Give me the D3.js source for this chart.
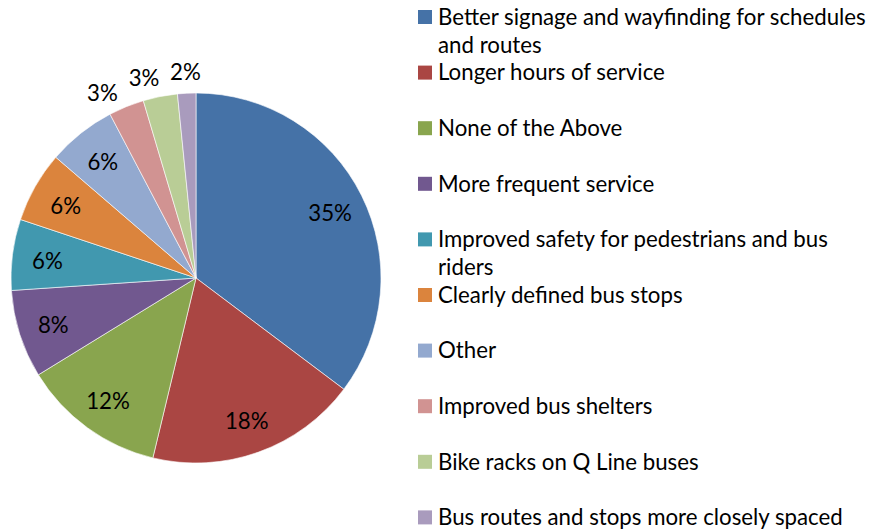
<!DOCTYPE html>
<html><head><meta charset="utf-8">
<script src="https://cdn.jsdelivr.net/npm/d3@7"></script>
<style>body{margin:0;background:#fff}svg{display:block}text{font-family:Lato,"Open Sans",sans-serif;fill:#000}</style>
</head><body><svg id="c" width="871" height="531"></svg>
<script>
const categories = ["Better signage and wayfinding for schedules and routes","Longer hours of service","None of the Above","More frequent service","Improved safety for pedestrians and bus riders","Clearly defined bus stops","Other","Improved bus shelters","Bike racks on Q Line buses","Bus routes and stops more closely spaced"];
const values = [35.3, 18.5, 12.5, 7.7, 6.2, 6.2, 6.0, 3.1, 3.0, 1.6];
const labels = ["35%","18%","12%","8%","6%","6%","6%","3%","3%","2%"];
const legendLines = [["Better signage and wayfinding for schedules","and routes"],["Longer hours of service"],["None of the Above"],["More frequent service"],["Improved safety for pedestrians and bus","riders"],["Clearly defined bus stops"],["Other"],["Improved bus shelters"],["Bike racks on Q Line buses"],["Bus routes and stops more closely spaced"]];
const colors = ["#4572A7","#AA4643","#89A54E","#71588F","#4198AF","#DB843D","#93A9CF","#D19392","#B9CD96","#A99BBD"];

const svg = d3.select("#c");
// fit font size to reference legend width
const probe = svg.append("text").style("font-size","20px").text(legendLines[0][0]);
const fs = 20 * 428 / probe.node().getComputedTextLength();
probe.remove();

const cx = 196, cy = 278, R = 185;
const pie = d3.pie().sort(null).value(d=>d)(values);
const arc = d3.arc().innerRadius(0).outerRadius(R);
const g = svg.append("g").attr("transform",`translate(${cx},${cy})`);
g.selectAll("path").data(pie).join("path").attr("d",arc)
  .attr("fill",(d,i)=>colors[i]).attr("stroke","#fff").attr("stroke-width",0.6);

const inArc = d3.arc().innerRadius(R*0.81).outerRadius(R*0.81);
const lbl = g.selectAll("text.lbl").data(pie).join("text").attr("class","lbl")
  .attr("text-anchor","middle").attr("dy","0.35em").style("font-size",fs+"px")
  .text((d,i)=>labels[i]);
const hh = 11, gap = 10;
const nodes = lbl.nodes();
let prevLeft = Infinity;
for (let i = pie.length-1; i >= 0; i--) {
  const d = pie[i], node = nodes[i];
  if (d.data >= 4) { const c = inArc.centroid(d); node.setAttribute("transform",`translate(${c[0]},${c[1]+2})`); continue; }
  const w2 = node.getComputedTextLength()/2;
  let a = (d.startAngle+d.endAngle)/2, x, y;
  const place = () => { const s=Math.sin(a), c=-Math.cos(a), r=R+10; x = r*s + s*w2; y = r*c + c*hh; };
  place();
  while (x + w2 > prevLeft - gap) { a -= 0.005; place(); }
  prevLeft = x - w2;
  node.setAttribute("transform",`translate(${x},${y})`);
}

const lg = svg.append("g");
const lh = 27.8;
let y = 17;
legendLines.forEach((lines,i)=>{
  lg.append("rect").attr("x",418).attr("y",y-7).attr("width",14).attr("height",14).attr("fill",colors[i]);
  lines.forEach((t,j)=>{
    lg.append("text").attr("x",438).attr("y",y+j*lh).attr("dy","0.35em").style("font-size",fs+"px").text(t);
  });
  y += lh*lines.length + (i===0||i===4 ? 0 : lh);
});
</script></body></html>
